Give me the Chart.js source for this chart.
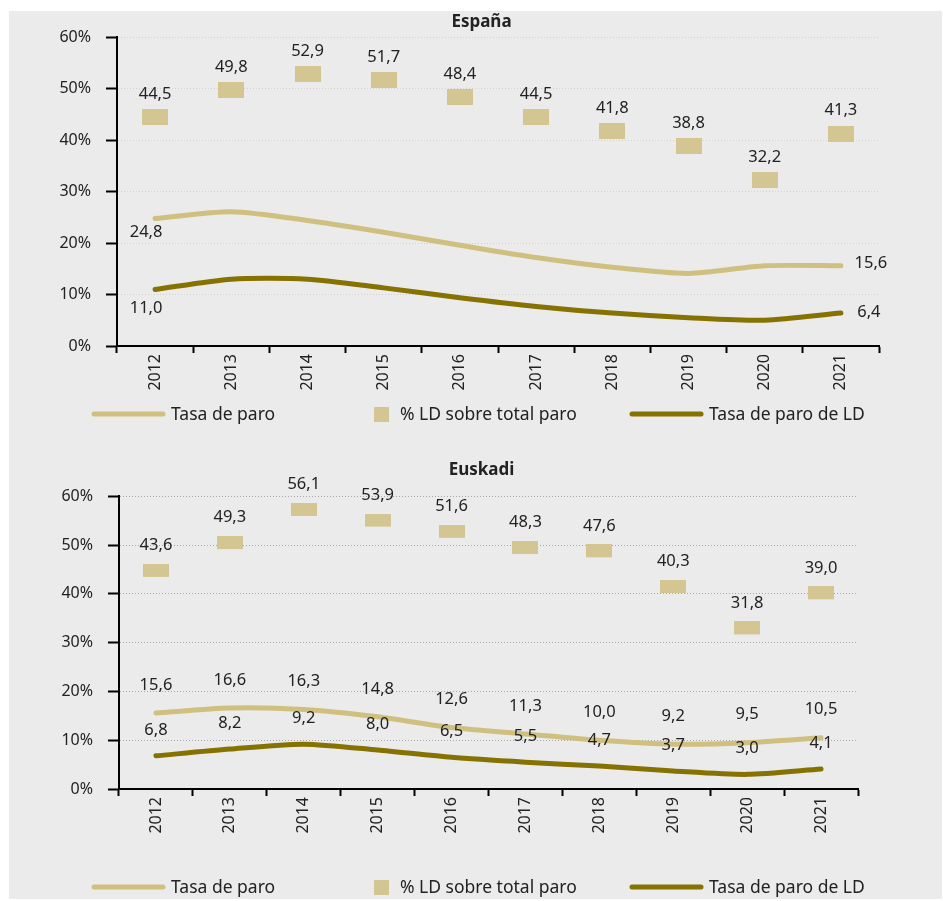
<!DOCTYPE html>
<html>
<head>
<meta charset="utf-8">
<script src="https://cdn.jsdelivr.net/npm/chart.js@4/dist/chart.umd.min.js"></script>
<style>
  body { margin: 0; background: #fff; width: 943px; height: 901px; position: relative; overflow: hidden; }
  #panel { position: absolute; left: 9px; top: 11px; width: 933px; height: 888px; background: #ebebeb; }
  .box { position: absolute; left: 0; width: 933px; }
  #box1 { top: -1px; height: 430px; }
  #box2 { top: 434px; height: 454px; }
</style>
</head>
<body>
<div id="panel">
  <div class="box" id="box1"><canvas id="chartEs"></canvas></div>
  <div class="box" id="box2"><canvas id="chartEu"></canvas></div>
</div>
<script>
// DATA
const YEARS = ["2012", "2013", "2014", "2015", "2016", "2017", "2018", "2019", "2020", "2021"];
const Y_TICKS = [0, 10, 20, 30, 40, 50, 60];

const ES_TASA = [24.8, 26.1, 24.4, 22.1, 19.6, 17.2, 15.3, 14.1, 15.6, 15.6];
const ES_LD_PCT = [44.5, 49.8, 52.9, 51.7, 48.4, 44.5, 41.8, 38.8, 32.2, 41.3];
const ES_TASA_LD = [11.0, 13.0, 13.0, 11.3, 9.4, 7.7, 6.4, 5.5, 5.0, 6.4];

const EU_TASA = [15.6, 16.6, 16.3, 14.8, 12.6, 11.3, 10.0, 9.2, 9.5, 10.5];
const EU_LD_PCT = [43.6, 49.3, 56.1, 53.9, 51.6, 48.3, 47.6, 40.3, 31.8, 39.0];
const EU_TASA_LD = [6.8, 8.2, 9.2, 8.0, 6.5, 5.5, 4.7, 3.7, 3.0, 4.1];

const LEGEND_TEXT = ["Tasa de paro", "% LD sobre total paro", "Tasa de paro de LD"];

// COLOURS / FONT
const C_LIGHT = "#cfc07f";
const C_SQUARE = "#d3c692";
const C_DARK = "#857200";
const TXT = "#222";
const FONT = "'Noto Sans', 'DejaVu Sans', sans-serif";

function fmt(v) { return v.toFixed(1).replace(".", ","); }

// marker image; "lift" leaves transparent rows below so the box sits a bit higher
function rectImage(w, h, color, lift) {
  const c = document.createElement("canvas");
  c.width = w; c.height = h + 2 * lift;
  const g = c.getContext("2d");
  g.fillStyle = color;
  g.fillRect(0, 0, w, h);
  return c;
}

// value labels drawn at the point positions given by the scales
const valueLabels = {
  id: "valueLabels",
  afterDatasetsDraw(chart) {
    const ctx = chart.ctx;
    ctx.save();
    ctx.font = "16.5px " + FONT;
    ctx.fillStyle = TXT;
    ctx.textAlign = "center";
    ctx.textBaseline = "middle";
    chart.data.datasets.forEach((ds, di) => {
      if (!ds.lbl) return;
      const meta = chart.getDatasetMeta(di);
      ds.lbl.forEach(l => {
        const idx = l.idx === undefined ? ds.data.map((_, i) => i) : [l.idx];
        idx.forEach(i => {
          const p = meta.data[i];
          ctx.fillText(fmt(ds.data[i]), p.x + (l.dx || 0), p.y + (l.dy || 0));
        });
      });
    });
    ctx.restore();
  }
};

// legend like the original (line, square, line)
const customLegend = {
  id: "customLegend",
  afterDraw(chart) {
    const o = chart.options.plugins.customLegend;
    if (!o) return;
    const ctx = chart.ctx;
    const y = o.y;
    const ds = chart.data.datasets;
    ctx.save();
    ctx.lineCap = "round";
    ctx.strokeStyle = ds[1].borderColor; ctx.lineWidth = 5;
    ctx.beginPath(); ctx.moveTo(85, y); ctx.lineTo(154, y); ctx.stroke();
    ctx.fillStyle = C_SQUARE;
    ctx.fillRect(365, y - 7, 15, 15);
    ctx.strokeStyle = ds[2].borderColor;
    ctx.beginPath(); ctx.moveTo(623, y); ctx.lineTo(692, y); ctx.stroke();
    ctx.font = "17.5px " + FONT;
    ctx.fillStyle = TXT;
    ctx.textBaseline = "middle";
    ctx.textAlign = "left";
    ctx.fillText(ds[1].label, 162, y + 1);
    ctx.fillText(ds[0].label, 391, y + 1);
    ctx.fillText(ds[2].label, 700, y + 1);
    ctx.restore();
  }
};

function makeChart(id, cfg) {
  const ctx = document.getElementById(id).getContext("2d");
  return new Chart(ctx, {
    data: {
      labels: YEARS,
      datasets: [
        {
          type: "line",
          label: LEGEND_TEXT[1],
          data: cfg.ldPct,
          showLine: false,
          pointStyle: rectImage(26, cfg.sqH, C_SQUARE, cfg.sqLift),
          pointRadius: 10,
          lbl: [{ dy: cfg.sqDy }],
          order: 0
        },
        {
          type: "line",
          label: LEGEND_TEXT[0],
          data: cfg.tasa,
          borderColor: C_LIGHT,
          borderWidth: 5,
          borderCapStyle: "round",
          tension: 0.25,
          pointRadius: 0,
          fill: false,
          lbl: cfg.tasaLbl,
          order: 1
        },
        {
          type: "line",
          label: LEGEND_TEXT[2],
          data: cfg.tasaLd,
          borderColor: C_DARK,
          borderWidth: 5,
          borderCapStyle: "round",
          tension: 0.25,
          pointRadius: 0,
          fill: false,
          lbl: cfg.ldLbl,
          order: 2
        }
      ]
    },
    options: {
      animation: false,
      responsive: true,
      maintainAspectRatio: false,
      layout: { padding: { left: 12, right: 0, top: 0, bottom: 0 } },
      scales: {
        x: {
          offset: true,
          grid: { offset: true, drawOnChartArea: false, drawTicks: true, tickLength: 7, tickColor: "#000", tickWidth: 2 },
          border: { color: "#000", width: 2 },
          ticks: { color: TXT, font: { family: FONT, size: 16 }, minRotation: 90, maxRotation: 90, padding: 1 },
          afterFit: s => { s.height = cfg.xH; }
        },
        y: {
          min: 0,
          max: 60,
          afterBuildTicks: s => { s.ticks = Y_TICKS.map(v => ({ value: v })); },
          grid: { color: cfg.gridColor, lineWidth: 1, tickLength: 11, tickColor: "#000", tickWidth: 2 },
          border: { color: "#000", width: 2, dash: [1, 2] },
          ticks: { color: TXT, font: { family: FONT, size: 16 }, padding: 15, callback: v => v + "%" },
          afterFit: s => { s.width = cfg.yW; }
        },
        // empty axis on the right, only to keep room like the original
        yRight: {
          position: "right",
          display: true,
          grid: { display: false },
          border: { display: false },
          ticks: { display: false },
          afterFit: s => { s.width = cfg.rightW; }
        }
      },
      plugins: {
        legend: { display: false },
        tooltip: { enabled: false },
        title: {
          display: true,
          text: cfg.title,
          color: TXT,
          font: { family: FONT, size: 17, weight: "bold" },
          padding: cfg.titlePad
        },
        customLegend: { y: cfg.legendY }
      }
    },
    plugins: [valueLabels, customLegend]
  });
}

makeChart("chartEs", {
  title: "España",
  tasa: ES_TASA, ldPct: ES_LD_PCT, tasaLd: ES_TASA_LD,
  sqH: 16, sqLift: 0, sqDy: -23,
  tasaLbl: [{ idx: 0, dx: -9, dy: 14 }, { idx: 9, dx: 30, dy: -2 }],
  ldLbl: [{ idx: 0, dx: -9, dy: 19 }, { idx: 9, dx: 28, dy: -1 }],
  titlePad: { top: 2, bottom: 5 },
  gridColor: "#d0d0d0",
  yW: 96, rightW: 63, xH: 94, legendY: 404
});

makeChart("chartEu", {
  title: "Euskadi",
  tasa: EU_TASA, ldPct: EU_LD_PCT, tasaLd: EU_TASA_LD,
  sqH: 13, sqLift: 6, sqDy: -31,
  tasaLbl: [{ dy: -28 }],
  ldLbl: [{ dy: -26 }],
  titlePad: { top: 15, bottom: 16 },
  gridColor: "#a8a8a8",
  yW: 98, rightW: 84, xH: 110, legendY: 442
});
</script>
</body>
</html>
